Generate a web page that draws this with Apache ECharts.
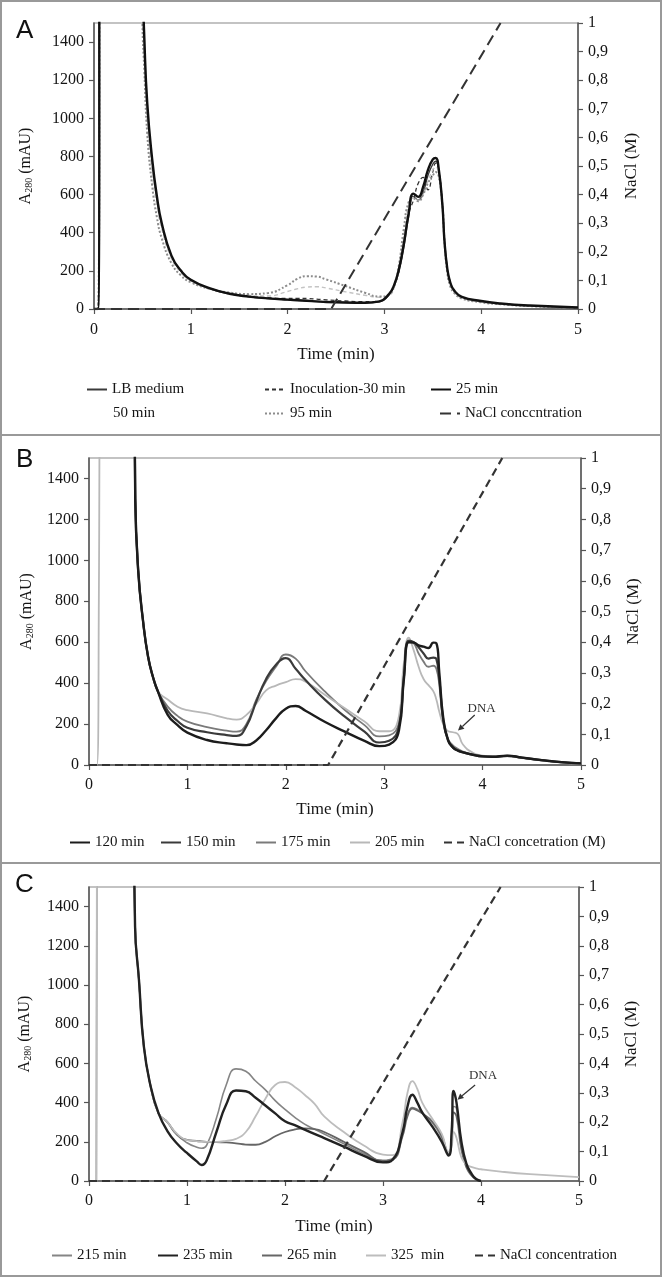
<!DOCTYPE html>
<html><head><meta charset="utf-8">
<script src="https://cdn.jsdelivr.net/npm/echarts@6/dist/echarts.min.js"></script>
<style>html,body{margin:0;padding:0;background:#fff}#c{width:664px;height:1278px}</style>
</head><body><div id="c"></div>
<script>
// ---------------- DATA ----------------
// Panel A
const tA = [0,0.04,0.07,0.45,0.5,0.52,0.55,0.6,0.65,0.7,0.8,0.9,1.0,1.2,1.4,1.6,1.8,2.0,2.1,2.2,2.3,2.4,2.6,2.8,2.95,3.05,3.1,3.15,3.2,3.25,3.3,3.35,3.4,3.45,3.5,3.53,3.56,3.6,3.62,3.65,3.68,3.72,3.8,4.0,4.2,4.5,5.0];
const aLB  = [0,0,3000,3000,1700,1380,1050,770,575,440,275,197,150,106,79,64,55,48,45,42,39,36,33,32,38,75,118,195,320,480,590,572,610,700,760,775,735,550,370,215,140,96,62,40,28,17,7];
const aIno = [0,0,3000,3000,1650,1350,1030,760,570,435,272,195,150,107,82,68,60,55,55,55,52,48,42,38,42,78,120,200,340,500,570,660,690,625,720,765,730,545,365,205,135,92,60,38,27,16,7];
const a25  = [0,0,3000,3000,1750,1420,1080,790,590,450,280,200,153,108,80,65,56,49,46,43,40,37,34,33,40,80,125,210,340,500,605,588,640,730,785,792,740,540,360,210,140,98,64,42,29,18,8];
const a50  = [0,0,3000,3000,1600,1300,980,720,540,420,265,190,148,108,84,72,68,92,106,115,117,110,90,72,62,72,115,215,380,540,585,570,600,670,730,745,715,540,360,200,130,90,58,37,26,15,6];
const a95  = [0,0,3000,3000,1500,1250,920,650,480,370,240,175,140,105,86,78,84,125,158,172,170,155,120,85,65,78,118,230,420,560,580,565,600,660,700,718,700,540,360,190,120,85,55,35,25,15,6];
const naclTA = [0,2.45,4.2];
const naclA  = [0,0,1];

// Panel B
const tB = [0,0.08,0.1,0.12,0.44,0.47,0.5,0.55,0.6,0.65,0.7,0.8,0.9,1.0,1.2,1.4,1.5,1.6,1.7,1.8,1.9,2.0,2.1,2.2,2.4,2.6,2.8,2.95,3.05,3.15,3.2,3.25,3.3,3.35,3.4,3.45,3.5,3.53,3.56,3.6,3.65,3.7,3.75,3.8,3.9,4.0,4.1,4.25,4.4,4.6,4.8,5.0];
const b120 = [null,null,null,null,3000,1300,950,700,530,430,360,245,195,158,122,106,100,97,120,170,228,275,288,265,210,163,118,92,100,170,420,600,598,585,578,572,598,595,450,230,120,85,70,62,50,42,40,46,36,24,14,8];
const b150 = [null,null,null,null,3000,1300,950,700,530,430,360,265,215,182,160,146,142,190,310,420,490,522,470,415,318,236,163,110,118,190,430,608,600,575,545,520,525,518,420,220,118,85,70,62,50,42,40,45,36,24,14,8];
const b175 = [null,null,null,null,3000,1300,950,700,530,430,360,285,240,212,185,168,163,200,320,410,480,540,520,458,358,269,195,140,145,210,450,605,595,545,505,480,485,470,390,210,125,95,78,66,52,44,41,44,35,23,13,7];
const b205 = [0,0,800,3000,3000,1300,950,700,530,430,360,320,285,268,252,228,222,245,300,365,388,405,420,407,342,277,212,165,165,240,500,622,560,480,420,390,360,320,260,200,165,160,150,100,60,46,42,42,34,22,12,6];
const naclTB = [0,2.43,4.2];
const naclB  = [0,0,1];

// Panel C
const tC = [0,0.075,0.085,0.44,0.47,0.51,0.56,0.63,0.71,0.8,0.9,1.0,1.1,1.15,1.2,1.3,1.4,1.5,1.6,1.7,1.8,1.9,2.0,2.1,2.2,2.3,2.4,2.6,2.8,3.0,3.1,3.2,3.25,3.3,3.35,3.4,3.5,3.6,3.67,3.7,3.72,3.75,3.8,3.85,3.9,3.95,4.0,4.2,4.5,5.0];
const c215 = [0,0,3000,3000,1300,1025,685,481,345,300,235,195,172,167,182,320,490,572,560,510,465,410,365,325,290,265,240,190,140,105,115,250,340,375,365,345,300,220,140,200,380,370,180,80,35,10,0,null,null,null];
const c235 = [null,null,null,3000,1300,1025,685,481,345,255,190,143,100,82,105,250,390,462,458,425,385,345,305,285,262,240,219,175,130,95,110,250,380,440,400,350,280,200,130,250,460,400,200,90,40,10,0,null,null,null];
const c265 = [null,null,null,3000,1300,1025,685,481,345,300,235,210,204,202,200,198,197,192,186,185,200,228,250,263,268,265,250,200,150,102,108,230,330,370,360,345,305,230,135,200,350,330,160,70,30,8,0,null,null,null];
const c325 = [0,0,3000,3000,1300,1025,685,481,345,300,240,208,203,201,200,200,205,215,250,330,420,490,505,480,440,395,330,250,182,135,132,300,450,510,470,400,320,240,150,175,250,220,120,85,72,65,60,48,35,20];
const naclTC = [0,2.4,4.2];
const naclC  = [0,0,1];

// Axis ticks
const leftTicks = [0,200,400,600,800,1000,1200,1400];

// ---------------- CHART ----------------
const SERIF = '"Liberation Serif","Times New Roman",serif';
const SANS = '"Liberation Sans",Arial,sans-serif';
const TXT = '#151515';
const chart = echarts.init(document.getElementById('c'), null, {renderer:'canvas'});

const zip = (t, v) => t.map((x, i) => [x, v[i]]);

function ser(name, gi, t, v, color, width, type, right, z) {
  return {
    name, type:'line', xAxisIndex: gi, yAxisIndex: gi*2 + (right ? 1 : 0),
    data: zip(t, v), symbol:'none', showSymbol:false, smooth: right ? false : 0.5,
    connectNulls:false, clip:true, animation:false,
    lineStyle:{color, width, type}, itemStyle:{color}, z: z || 2
  };
}

const grids = [
  {left:94, top:23, width:484, height:286},
  {left:89, top:458, width:492, height:307},
  {left:89, top:887, width:490, height:294}
];
const xMargins = [13, 12, 12];
const xNameGaps = [37, 36, 37];
const yNameGaps = [60, 54, 56];
const rNameGaps = [45, 44, 44];

const axisLineStyle = {color:'#555', width:1.5};
const xAxes = grids.map((g, i) => ({
  gridIndex:i, type:'value', min:0, max:5, interval:1,
  name:'Time (min)', nameLocation:'middle', nameGap:xNameGaps[i],
  nameTextStyle:{fontFamily:SERIF, fontSize:17, color:TXT},
  axisLine:{show:true, onZero:false, lineStyle:axisLineStyle},
  axisTick:{show:true, length:5, lineStyle:{color:'#555', width:1.2}},
  axisLabel:{fontFamily:SERIF, fontSize:16, color:TXT, margin:xMargins[i], formatter: v => String(v)},
  splitLine:{show:false}
}));
const yAxes = [];
grids.forEach((g, i) => {
  yAxes.push({
    gridIndex:i, type:'value', position:'left', min:0, max:1500, interval:100,
    name:'{m|A}{s|280}{m| (mAU)}', nameLocation:'middle', nameGap:yNameGaps[i], nameRotate:90,
    nameTextStyle:{rich:{
      m:{fontFamily:SERIF, fontSize:16, color:TXT},
      s:{fontFamily:SERIF, fontSize:10, color:TXT, padding:[7,0,0,0]}
    }},
    axisLine:{show:true, lineStyle:axisLineStyle},
    axisTick:{show:true, length:5, customValues:leftTicks, lineStyle:{color:'#555', width:1.2}},
    axisLabel:{fontFamily:SERIF, fontSize:16, color:TXT, margin:10, customValues:leftTicks, formatter: v => String(v)},
    splitLine:{show:false}
  });
  yAxes.push({
    gridIndex:i, type:'value', position:'right', min:0, max:1, interval:0.1,
    name:'NaCl (M)', nameLocation:'middle', nameGap:rNameGaps[i], nameRotate:90,
    nameTextStyle:{fontFamily:SERIF, fontSize:17, color:TXT},
    axisLine:{show:true, lineStyle:axisLineStyle},
    axisTick:{show:true, length:5, lineStyle:{color:'#555', width:1.2}},
    axisLabel:{fontFamily:SERIF, fontSize:16, color:TXT, margin:10,
      formatter: v => v < 0.001 ? '0' : (v > 0.999 ? '1' : v.toFixed(1).replace('.', ','))},
    splitLine:{show:false}
  });
});

const series = [
  ser('LB medium', 0, tA, aLB, '#3a3a3a', 1.3, 'solid'),
  ser('Inoculation-30 min', 0, tA, aIno, '#333', 1.3, [4,3]),
  ser('25 min', 0, tA, a25, '#111', 2.4, 'solid', false, 4),
  ser('50 min', 0, tA, a50, '#c4c4c4', 1.4, [4,3]),
  ser('95 min', 0, tA, a95, '#8c8c8c', 2, [2,2], false, 3),
  ser('NaCl conccntration', 0, naclTA, naclA, '#333', 2, [11,6], true, 5),

  ser('120 min', 1, tB, b120, '#1c1c1c', 2.4, 'solid', false, 4),
  ser('150 min', 1, tB, b150, '#3a3a3a', 2.2, 'solid', false, 3),
  ser('175 min', 1, tB, b175, '#7a7a7a', 1.8, 'solid'),
  ser('205 min', 1, tB, b205, '#b8b8b8', 1.8, 'solid'),
  ser('NaCl concetration (M)', 1, naclTB, naclB, '#333', 2.2, [8,5], true, 5),

  ser('215 min', 2, tC, c215, '#858585', 1.6, 'solid'),
  ser('235 min', 2, tC, c235, '#222', 2.4, 'solid', false, 4),
  ser('265 min', 2, tC, c265, '#666', 1.8, 'solid'),
  ser('325  min', 2, tC, c325, '#bdbdbd', 1.8, 'solid'),
  ser('NaCl concentration', 2, naclTC, naclC, '#333', 2.2, [8,5], true, 5)
];

function leg(name, left, cy, hide) {
  const d = hide ? {name, itemStyle:{opacity:0}, lineStyle:{opacity:0}} : {name, itemStyle:{opacity:0}};
  return {data:[d], left, top:cy-7, itemWidth:20, itemHeight:14, padding:0, itemGap:0,
    selectedMode:false, itemStyle:{opacity:0}, textStyle:{fontFamily:SERIF, fontSize:15, color:TXT}};
}
const legends = [
  leg('LB medium', 86, 389), leg('Inoculation-30 min', 264, 389), leg('25 min', 430, 389),
  leg('50 min', 87, 413, true), leg('95 min', 264, 413), leg('NaCl conccntration', 439, 413),
  leg('120 min', 69, 842), leg('150 min', 160, 842), leg('175 min', 255, 842), leg('205 min', 349, 842),
  leg('NaCl concetration (M)', 443, 842),
  leg('215 min', 51, 1255), leg('235 min', 157, 1255), leg('265 min', 261, 1255), leg('325  min', 365, 1255),
  leg('NaCl concentration', 474, 1255)
];

const baseGraphic = [
  {type:'rect', shape:{x:1, y:1, width:660, height:434}, style:{fill:'none', stroke:'#999', lineWidth:2}, z:-1},
  {type:'rect', shape:{x:1, y:435, width:660, height:428}, style:{fill:'none', stroke:'#999', lineWidth:2}, z:-1},
  {type:'rect', shape:{x:1, y:863, width:660, height:413}, style:{fill:'none', stroke:'#999', lineWidth:2}, z:-1},
  {type:'text', left:16, top:18, style:{text:'A', font:'26px ' + SANS, fill:'#111'}},
  {type:'text', left:16, top:447, style:{text:'B', font:'26px ' + SANS, fill:'#111'}},
  {type:'text', left:15, top:872, style:{text:'C', font:'26px ' + SANS, fill:'#111'}}
];

chart.setOption({
  animation:false,
  backgroundColor:'#fff',
  grid: grids.map(g => Object.assign({show:true, borderColor:'#b0b0b0', borderWidth:1.5, backgroundColor:'transparent', containLabel:false}, g)),
  xAxis: xAxes, yAxis: yAxes, series, legend: legends, graphic: baseGraphic
});

// DNA annotations (positioned through the axes)
const dnaNotes = [
  {gi:1, text:[3.99, 277], from:[3.92, 244], to:[3.75, 168]},
  {gi:2, text:[4.02, 536], from:[3.94, 490], to:[3.76, 415]}
];
const extra = [];
dnaNotes.forEach(n => {
  const f = {xAxisIndex:n.gi, yAxisIndex:n.gi*2};
  const pt = chart.convertToPixel(f, n.text);
  const p1 = chart.convertToPixel(f, n.from);
  const p2 = chart.convertToPixel(f, n.to);
  const ang = Math.atan2(p2[1]-p1[1], p2[0]-p1[0]);
  const L = 6, W = 3;
  const bx = p2[0] - L*Math.cos(ang), by = p2[1] - L*Math.sin(ang);
  extra.push({type:'text', x:pt[0], y:pt[1], style:{text:'DNA', font:'13px ' + SERIF, fill:'#333', align:'center', verticalAlign:'middle'}, z:10});
  extra.push({type:'line', shape:{x1:p1[0], y1:p1[1], x2:bx, y2:by}, style:{stroke:'#333', lineWidth:1.2}, z:10});
  extra.push({type:'polygon', shape:{points:[[p2[0],p2[1]],[bx - W*Math.sin(ang), by + W*Math.cos(ang)],[bx + W*Math.sin(ang), by - W*Math.cos(ang)]]}, style:{fill:'#333'}, z:10});
});
chart.setOption({graphic: baseGraphic.concat(extra)});
</script></body></html>
